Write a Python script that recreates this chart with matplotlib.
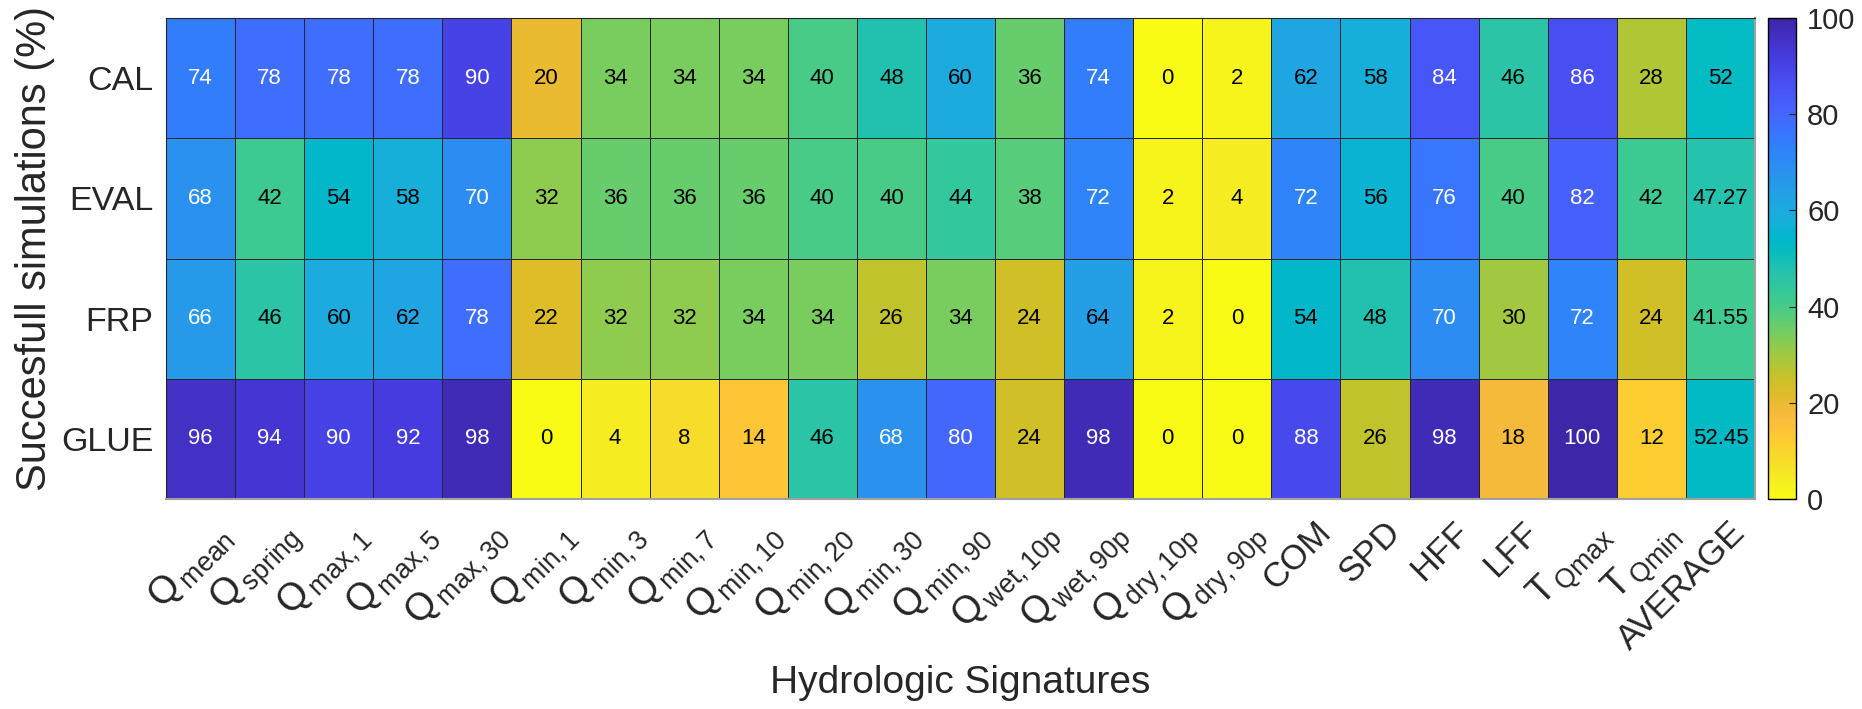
#!/usr/bin/env python
# -*- coding: utf-8 -*-
"""
Heatmap of successful simulations (%) per method and hydrologic signature.
MATLAB-like look: reversed parula colormap, values written in each cell.
"""

import numpy as np
import matplotlib
matplotlib.use('Agg')
import matplotlib.pyplot as plt
from matplotlib.colors import LinearSegmentedColormap
from matplotlib.transforms import ScaledTranslation

plt.rcParams['font.family'] = ['Liberation Sans', 'DejaVu Sans']
plt.rcParams['mathtext.fontset'] = 'custom'
plt.rcParams['mathtext.rm'] = 'Liberation Sans'
plt.rcParams['mathtext.it'] = 'Liberation Sans:italic'

# ---------------------------- data ----------------------------
methods = ['CAL', 'EVAL', 'FRP', 'GLUE']

signatures = [
    r'$\mathregular{Q_{\,mean}}$', r'$\mathregular{Q_{\,spring}}$',
    r'$\mathregular{Q_{\,max,1}}$', r'$\mathregular{Q_{\,max,5}}$', r'$\mathregular{Q_{\,max,30}}$',
    r'$\mathregular{Q_{\,min,1}}$', r'$\mathregular{Q_{\,min,3}}$', r'$\mathregular{Q_{\,min,7}}$',
    r'$\mathregular{Q_{\,min,10}}$', r'$\mathregular{Q_{\,min,20}}$', r'$\mathregular{Q_{\,min,30}}$',
    r'$\mathregular{Q_{\,min,90}}$', r'$\mathregular{Q_{\,wet,10p}}$', r'$\mathregular{Q_{\,wet,90p}}$',
    r'$\mathregular{Q_{\,dry,10p}}$', r'$\mathregular{Q_{\,dry,90p}}$',
    'COM', 'SPD', 'HFF', 'LFF',
    r'$\mathregular{T_{\,Qmax}}$', r'$\mathregular{T_{\,Qmin}}$', 'AVERAGE',
]

cal_vals = [74, 78, 78, 78, 90, 20, 34, 34, 34, 40, 48, 60, 36, 74, 0, 2, 62, 58, 84, 46, 86, 28, 52]
eval_vals = [68, 42, 54, 58, 70, 32, 36, 36, 36, 40, 40, 44, 38, 72, 2, 4, 72, 56, 76, 40, 82, 42, 47.27]
frp_vals = [66, 46, 60, 62, 78, 22, 32, 32, 34, 34, 26, 34, 24, 64, 2, 0, 54, 48, 70, 30, 72, 24, 41.55]
glue_vals = [96, 94, 90, 92, 98, 0, 4, 8, 14, 46, 68, 80, 24, 98, 0, 0, 88, 26, 98, 18, 100, 12, 52.45]

cbar_ticks = [0, 20, 40, 60, 80, 100]

# ---------------------------- parula (MATLAB) ----------------------------
PARULA = [
    (0.2422, 0.1504, 0.6603), (0.2504, 0.1650, 0.7076), (0.2578, 0.1818, 0.7511),
    (0.2647, 0.1978, 0.7952), (0.2706, 0.2147, 0.8364), (0.2751, 0.2342, 0.8710),
    (0.2783, 0.2559, 0.8991), (0.2803, 0.2782, 0.9221), (0.2813, 0.3006, 0.9414),
    (0.2810, 0.3228, 0.9579), (0.2795, 0.3447, 0.9717), (0.2760, 0.3667, 0.9829),
    (0.2699, 0.3892, 0.9906), (0.2602, 0.4123, 0.9952), (0.2440, 0.4358, 0.9988),
    (0.2206, 0.4603, 0.9973), (0.1963, 0.4847, 0.9892), (0.1834, 0.5074, 0.9798),
    (0.1786, 0.5289, 0.9682), (0.1764, 0.5499, 0.9520), (0.1687, 0.5703, 0.9359),
    (0.1540, 0.5902, 0.9218), (0.1460, 0.6091, 0.9079), (0.1380, 0.6276, 0.8973),
    (0.1248, 0.6459, 0.8883), (0.1113, 0.6635, 0.8763), (0.0952, 0.6798, 0.8598),
    (0.0689, 0.6948, 0.8394), (0.0297, 0.7082, 0.8163), (0.0036, 0.7203, 0.7917),
    (0.0067, 0.7312, 0.7660), (0.0433, 0.7411, 0.7394), (0.0964, 0.7500, 0.7120),
    (0.1408, 0.7584, 0.6842), (0.1717, 0.7670, 0.6554), (0.1938, 0.7758, 0.6251),
    (0.2161, 0.7843, 0.5923), (0.2470, 0.7918, 0.5567), (0.2906, 0.7973, 0.5188),
    (0.3406, 0.8008, 0.4789), (0.3909, 0.8029, 0.4354), (0.4456, 0.8024, 0.3909),
    (0.5044, 0.7993, 0.3480), (0.5616, 0.7942, 0.3045), (0.6174, 0.7876, 0.2612),
    (0.6720, 0.7793, 0.2227), (0.7242, 0.7698, 0.1910), (0.7738, 0.7598, 0.1646),
    (0.8203, 0.7498, 0.1535), (0.8634, 0.7406, 0.1596), (0.9035, 0.7330, 0.1774),
    (0.9393, 0.7288, 0.2100), (0.9728, 0.7298, 0.2394), (0.9956, 0.7434, 0.2371),
    (0.9970, 0.7659, 0.2199), (0.9952, 0.7893, 0.2028), (0.9892, 0.8136, 0.1885),
    (0.9786, 0.8386, 0.1766), (0.9676, 0.8639, 0.1643), (0.9610, 0.8890, 0.1537),
    (0.9597, 0.9135, 0.1423), (0.9628, 0.9373, 0.1265), (0.9691, 0.9606, 0.1064),
    (0.9769, 0.9839, 0.0805),
]
cmap = LinearSegmentedColormap.from_list('parula_r', PARULA[::-1], N=256)

TXT = '#262626'


def main():
    values = np.array([cal_vals, eval_vals, frp_vals, glue_vals], dtype=float)
    n_rows, n_cols = values.shape

    fig = plt.figure(figsize=(18.62, 7.09), dpi=100)
    ax = fig.add_axes([0.0892, 0.2962, 0.8533, 0.6784])
    cax = fig.add_axes([0.9495, 0.2962, 0.0150, 0.6784])

    mesh = ax.pcolormesh(values, cmap=cmap, vmin=0, vmax=100,
                         edgecolors='#262626', linewidth=0.7)
    ax.set_xlim(0, n_cols)
    ax.set_ylim(n_rows, 0)

    # valeurs dans les cases
    for i in range(n_rows):
        for j in range(n_cols):
            v = values[i, j]
            s = '%d' % v if float(v).is_integer() else '%.2f' % v
            ax.text(j + 0.5, i + 0.5, s, ha='center', va='center', fontsize=16,
                    color='white' if v > 65 else 'black')

    ax.set_yticks(np.arange(n_rows) + 0.5)
    ax.set_yticklabels(methods, fontsize=24.5, color=TXT)
    ax.set_xticks(np.arange(n_cols) + 0.5)
    ax.set_xticklabels(signatures, fontsize=25, color=TXT, rotation=45,
                       ha='right', va='center', rotation_mode='anchor')
    ax.tick_params(axis='y', length=0, pad=9)
    ax.tick_params(axis='x', length=0, pad=13)
    # decalage des etiquettes (texte simple / avec indice)
    plain_shift = ScaledTranslation(0.20, -0.10, fig.dpi_scale_trans)
    sub_shift = ScaledTranslation(0.25, -0.14, fig.dpi_scale_trans)
    for lab in ax.get_xticklabels():
        if lab.get_text().startswith('$'):
            lab.set_fontsize(27.5)
            lab.set_transform(lab.get_transform() + sub_shift)
        else:
            lab.set_transform(lab.get_transform() + plain_shift)

    for sp in ax.spines.values():
        sp.set_color('#262626')
        sp.set_linewidth(0.8)
    for side in ('right', 'bottom'):
        ax.spines[side].set_color('#a0a0a0')
        ax.spines[side].set_linewidth(1.5)

    ax.set_ylabel('Succesfull simulations (%)', fontsize=30, color=TXT)
    ax.yaxis.set_label_coords(-0.07, 0.52)
    ax.set_xlabel('Hydrologic Signatures', fontsize=28, color=TXT)
    ax.xaxis.set_label_coords(0.5, -0.345)

    # colorbar
    cbar = fig.colorbar(mesh, cax=cax)
    cbar.set_ticks(cbar_ticks)
    cbar.outline.set_edgecolor('black')
    cbar.outline.set_linewidth(1.0)
    cax.tick_params(direction='in', length=5, width=0.8, labelsize=21,
                    pad=8, colors=TXT)

    fig.savefig('out.png', dpi=100)


if __name__ == '__main__':
    main()
